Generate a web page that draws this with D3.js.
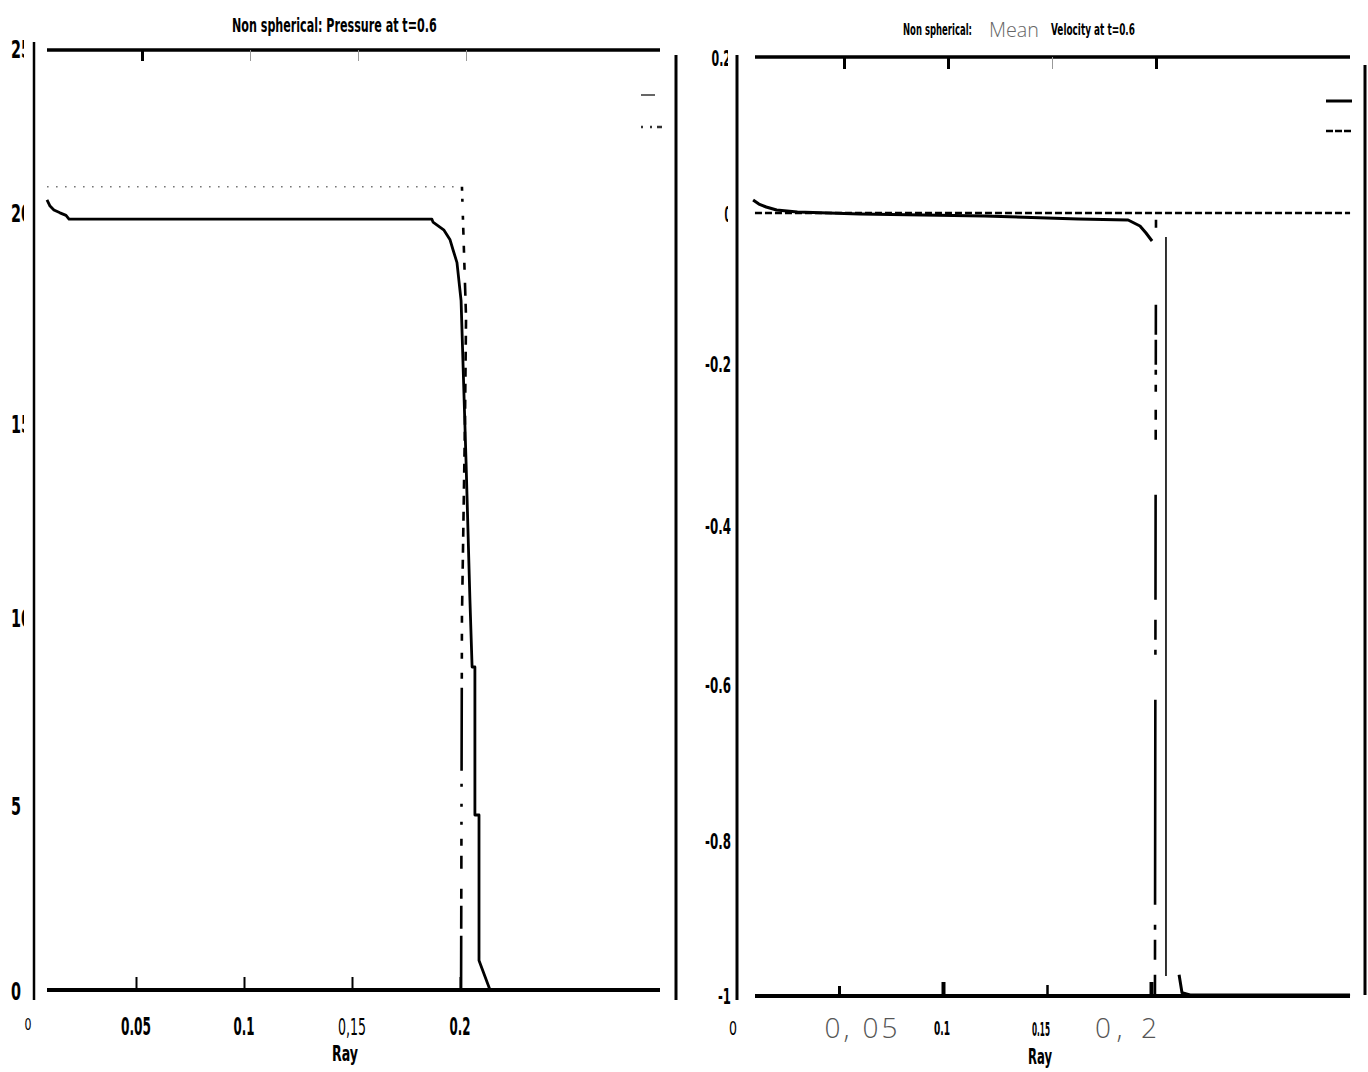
<!DOCTYPE html>
<html>
<head>
<meta charset="utf-8">
<script src="https://cdn.jsdelivr.net/npm/d3@7"></script>
<style>
  body { margin: 0; background: #fff; }
  svg { display: block; }
</style>
</head>
<body>
<svg id="chart" width="1368" height="1072"></svg>
<script>
// ---- data ---------------------------------------------------------------
const rayTicks = [0, 0.05, 0.1, 0.15, 0.2];
const pressureRayLabels = ["0", "0.05", "0.1", "0,15", "0.2"];
const velocityRayLabels = ["0", "0, 05", "0.1", "0.15", "0, 2"];

const pressureTicks = [0, 5, 10, 15, 20, 25];
const pressureTickLabels = ["0", "5", "10", "15", "20", "25"];
const velocityTicks = [-1, -0.8, -0.6, -0.4, -0.2, 0, 0.2];
const velocityTickLabels = ["-1", "-0.8", "-0.6", "-0.4", "-0.2", "0", "0.2"];

// pressure profile, computed solution: [ray, pressure]
const pressureComputed = [
  [0.0088, 20.37], [0.0102, 20.18], [0.0120, 20.06], [0.0148, 19.98], [0.0176, 19.92],
  [0.0190, 19.83], [0.1870, 19.83], [0.1875, 19.76], [0.1926, 19.57], [0.1954, 19.34],
  [0.1968, 19.10], [0.1986, 18.80], [0.2005, 17.90], [0.2028, 14.00], [0.2046, 10.44],
  [0.2056, 8.67], [0.2069, 8.67], [0.2069, 4.73], [0.2088, 4.73], [0.2088, 0.80],
  [0.2139, 0], [0.2917, 0]
];
// pressure profile, reference solution (plateau then shock front)
const pressureReference = [
  [0.0088, 20.77], [0.2000, 20.77],
  [0.2009, 20.77], [0.2028, 17.50], [0.2023, 15.00], [0.2009, 10.00], [0.2005, 0], [0.2917, 0]
];

// mean velocity, computed solution (null = break in the trace)
const velocityComputed = [
  [0.0087, 0.0167], [0.0115, 0.0115], [0.0150, 0.0077], [0.0200, 0.0038], [0.0300, 0.0013],
  [0.0600, -0.0013], [0.1200, -0.0040], [0.1650, -0.0080], [0.1890, -0.0093], [0.1947, -0.0173],
  [0.1976, -0.0267], [0.2005, -0.0373],
  null,
  [0.2072, -0.032], [0.2072, -0.9755],
  null,
  [0.2135, -0.974], [0.2149, -0.997], [0.2188, -1], [0.2957, -1]
];
// mean velocity, reference solution
const velocityReference = [
  [0.0096, 0], [0.2957, 0],
  null,
  [0.2024, -0.009], [0.2019, -1]
];

// ---- helpers -------------------------------------------------------------
const NARROW = "'Liberation Sans Narrow','Arial Narrow','DejaVu Sans Condensed',sans-serif";
const LIGHT = "'Open Sans',Lato,sans-serif";
const svg = d3.select("#chart");

function splitSegments(arr) {
  const out = [[]];
  arr.forEach(d => { if (d === null) out.push([]); else out[out.length - 1].push(d); });
  return out;
}
// Text helper: when a width is given, the glyphs are squeezed horizontally
// (condensed lettering) so the text occupies exactly that width.
function addText(g, o) {
  const t = g.append("text")
    .attr("font-family", o.family || NARROW)
    .attr("font-size", o.size)
    .attr("font-weight", o.weight || "normal")
    .attr("fill", o.fill || "#000")
    .attr("text-anchor", o.anchor || "start")
    .text(o.text);
  if (o.len && o.adjust === "spacing") {
    t.attr("x", o.x).attr("y", o.y)
      .attr("textLength", o.len).attr("lengthAdjust", "spacing");
  } else if (o.len) {
    const w = t.node().getComputedTextLength() || o.len;
    t.attr("transform", `translate(${o.x},${o.y}) scale(${o.len / w},1)`);
  } else {
    t.attr("x", o.x).attr("y", o.y);
  }
  return t;
}
function frameLine(x1, y1, x2, y2, w) {
  svg.append("line").attr("x1", x1).attr("y1", y1).attr("x2", x2).attr("y2", y2)
    .attr("stroke", "#000").attr("stroke-width", w);
}

const defs = svg.append("defs");
defs.append("clipPath").attr("id", "clipPLabels").attr("clipPathUnits", "userSpaceOnUse")
  .append("rect").attr("x", 0).attr("y", 0).attr("width", 24).attr("height", 1072);
defs.append("clipPath").attr("id", "clipVLabels").attr("clipPathUnits", "userSpaceOnUse")
  .append("rect").attr("x", 690).attr("y", 0).attr("width", 38).attr("height", 1072);

// ======================= Pressure panel ===================================
const xP = d3.scaleLinear().domain([0, 0.3]).range([28, 676]);
const yP = d3.scaleLinear().domain(pressureTicks).range([990, 805, 617, 423, 212, 48]);

addText(svg, { x: 232, y: 32, size: 19, weight: "bold", text: "Non spherical: Pressure at t=0.6", len: 205 });

// frame
frameLine(34, 42, 34, 1000, 2.5);
frameLine(47, 50, 660, 50, 3.5);
frameLine(47, yP(0), 660, yP(0), 4);
frameLine(676, 55, 676, 1000, 3);

// ticks
const pBottom = svg.append("g").attr("transform", `translate(0,${yP(0)})`)
  .call(d3.axisBottom(xP).tickValues(rayTicks.slice(1)).tickSize(-13).tickFormat(""));
pBottom.select(".domain").remove();
pBottom.selectAll(".tick line").attr("stroke", "#000").attr("stroke-width", 2);

const pTop = svg.append("g").attr("transform", "translate(6,50)")
  .call(d3.axisTop(xP).tickValues(rayTicks.slice(1)).tickSize(-11).tickFormat(""));
pTop.select(".domain").remove();
pTop.selectAll(".tick line")
  .attr("stroke", (d, i) => i === 0 ? "#000" : "#999")
  .attr("stroke-width", (d, i) => i === 0 ? 3 : 1);

// y tick labels (two-digit values are trimmed by the axis margin)
const pYL = svg.append("g").attr("clip-path", "url(#clipPLabels)");
pressureTicks.forEach((v, i) => {
  addText(pYL, { x: 11, y: yP(v) + 10, size: 24, weight: "bold", text: pressureTickLabels[i],
    len: pressureTickLabels[i].length * 10 });
});

// x tick labels
const pXStyle = [
  { size: 16, weight: "normal", len: 7, dy: 1030 },
  { size: 25, weight: "bold", len: 30, dy: 1035 },
  { size: 25, weight: "bold", len: 21, dy: 1035 },
  { size: 23, weight: "normal", len: 28, dy: 1035 },
  { size: 25, weight: "bold", len: 21, dy: 1035 }
];
rayTicks.forEach((v, i) => {
  const s = pXStyle[i];
  addText(svg, { x: xP(v), y: s.dy, size: s.size, weight: s.weight, anchor: "middle",
    text: pressureRayLabels[i], len: s.len });
});
addText(svg, { x: 345, y: 1061, size: 22, weight: "bold", anchor: "middle", text: "Ray", len: 26 });

// series
const lineP = d3.line().x(d => xP(d[0])).y(d => yP(d[1]));
svg.append("path").datum(pressureComputed).attr("d", lineP)
  .attr("fill", "none").attr("stroke", "#000").attr("stroke-width", 2.8)
  .attr("stroke-linejoin", "round");
// plateau part of the reference curve (dotted) and its shock front (broken dashes)
svg.append("path").datum(pressureReference.slice(0, 2)).attr("d", lineP)
  .attr("fill", "none").attr("stroke", "#777").attr("stroke-width", 1.6)
  .attr("stroke-dasharray", "1.6,7.4");
svg.append("path").datum(pressureReference.slice(2)).attr("d", lineP)
  .attr("fill", "none").attr("stroke", "#000").attr("stroke-width", 2.6)
  .attr("stroke-dasharray",
    "4,8,3,14,4,8,7,11,7,10,7,13,13,8," +
    d3.range(18).map(() => "9,7").join(",") +
    ",0,4,10,10,7,11,7,12,6,14,6,9,83,13,3,17,3,15,3,14,7,10,13,20,10,7,23,7,60,100");

// legend samples
svg.append("line").attr("x1", 641).attr("y1", 95).attr("x2", 655).attr("y2", 95)
  .attr("stroke", "#666").attr("stroke-width", 2);
svg.append("line").attr("x1", 641).attr("y1", 127).attr("x2", 663).attr("y2", 127)
  .attr("stroke", "#333").attr("stroke-width", 2.5).attr("stroke-dasharray", "2,7,2,5,5,100");

// ======================= Velocity panel ===================================
const xV = d3.scaleLinear().domain([0, 0.3]).range([735, 1359]);
const yV = d3.scaleLinear().domain(velocityTicks).range([995, 840, 684, 525, 363, 213, 57]);

addText(svg, { x: 903, y: 35, size: 16, weight: "bold", text: "Non spherical:", len: 69 });
addText(svg, { x: 989, y: 37, size: 20, family: LIGHT, weight: 300, fill: "#666", text: "Mean", len: 50 });
addText(svg, { x: 1051, y: 35, size: 16, weight: "bold", text: "Velocity at t=0.6", len: 84 });

// frame
frameLine(737, 55, 737, 1000, 3);
frameLine(755, yV(0.2), 1350, yV(0.2), 3.5);
frameLine(755, yV(-1) + 1, 1350, yV(-1) + 1, 4);
frameLine(1365, 65, 1365, 995, 3);

// ticks
const vBottom = svg.append("g").attr("transform", `translate(0,${yV(-1) + 1})`)
  .call(d3.axisBottom(xV).tickValues(rayTicks.slice(1)).tickSize(-14).tickFormat(""));
vBottom.select(".domain").remove();
const vBotLen = [10, 14, 11, 14], vBotW = [3, 4, 2.5, 4];
vBottom.selectAll(".tick line")
  .attr("y2", (d, i) => -vBotLen[i])
  .attr("stroke", "#000").attr("stroke-width", (d, i) => vBotW[i]);

const vTop = svg.append("g").attr("transform", `translate(5,${yV(0.2)})`)
  .call(d3.axisTop(xV).tickValues(rayTicks.slice(1)).tickSize(-12).tickFormat(""));
vTop.select(".domain").remove();
vTop.selectAll(".tick line")
  .attr("stroke", (d, i) => i === 2 ? "#999" : "#000")
  .attr("stroke-width", (d, i) => i === 2 ? 1 : 3);

// y tick labels (the two upper ones are trimmed by the axis)
const vYClip = svg.append("g").attr("clip-path", "url(#clipVLabels)");
velocityTicks.forEach((v, i) => {
  const g = v >= 0 ? vYClip : svg;
  const lbl = velocityTickLabels[i];
  addText(g, { x: 731, y: yV(v) + 9, size: 21, weight: "bold", anchor: "end", text: lbl,
    len: lbl.length * 6.5 });
});

// x tick labels
const vXStyle = [
  { size: 20, family: NARROW, weight: "normal", fill: "#000", len: 8, nudge: -2, y: 1035 },
  { size: 28, family: LIGHT, weight: 300, fill: "#555", len: 73, nudge: 22, y: 1038, adjust: "spacing" },
  { size: 19, family: NARROW, weight: "bold", fill: "#000", len: 16, nudge: -1, y: 1035 },
  { size: 19, family: NARROW, weight: "bold", fill: "#000", len: 18, nudge: -6, y: 1036 },
  { size: 28, family: LIGHT, weight: 300, fill: "#555", len: 62, nudge: -25, y: 1038, adjust: "spacing" }
];
rayTicks.forEach((v, i) => {
  const s = vXStyle[i];
  addText(svg, { x: xV(v) + s.nudge, y: s.y, size: s.size, family: s.family, weight: s.weight,
    fill: s.fill, anchor: "middle", text: velocityRayLabels[i], len: s.len, adjust: s.adjust });
});
addText(svg, { x: 1040, y: 1064, size: 22, weight: "bold", anchor: "middle", text: "Ray", len: 24 });

// series
const lineV = d3.line().x(d => xV(d[0])).y(d => yV(d[1]));
const compWidths = [3, 1.6, 3];
splitSegments(velocityComputed).forEach((seg, i) => {
  svg.append("path").datum(seg).attr("d", lineV)
    .attr("fill", "none").attr("stroke", "#000").attr("stroke-width", compWidths[i])
    .attr("stroke-linejoin", "round");
});
const refDash = [
  "7,3",
  "8,77,30,5,25,5,5,10,7,18,10,10,10,55,105,20,20,10,5,45,205,20,5,10,20,15,20,100"
];
const refWidths = [2.6, 2.6];
splitSegments(velocityReference).forEach((seg, i) => {
  svg.append("path").datum(seg).attr("d", lineV)
    .attr("fill", "none").attr("stroke", "#000").attr("stroke-width", refWidths[i])
    .attr("stroke-dasharray", refDash[i]);
});

// legend samples
svg.append("line").attr("x1", 1326).attr("y1", 101).attr("x2", 1352).attr("y2", 101)
  .attr("stroke", "#000").attr("stroke-width", 3);
svg.append("line").attr("x1", 1326).attr("y1", 131).attr("x2", 1352).attr("y2", 131)
  .attr("stroke", "#000").attr("stroke-width", 2.5).attr("stroke-dasharray", "7,2");
</script>
</body>
</html>
